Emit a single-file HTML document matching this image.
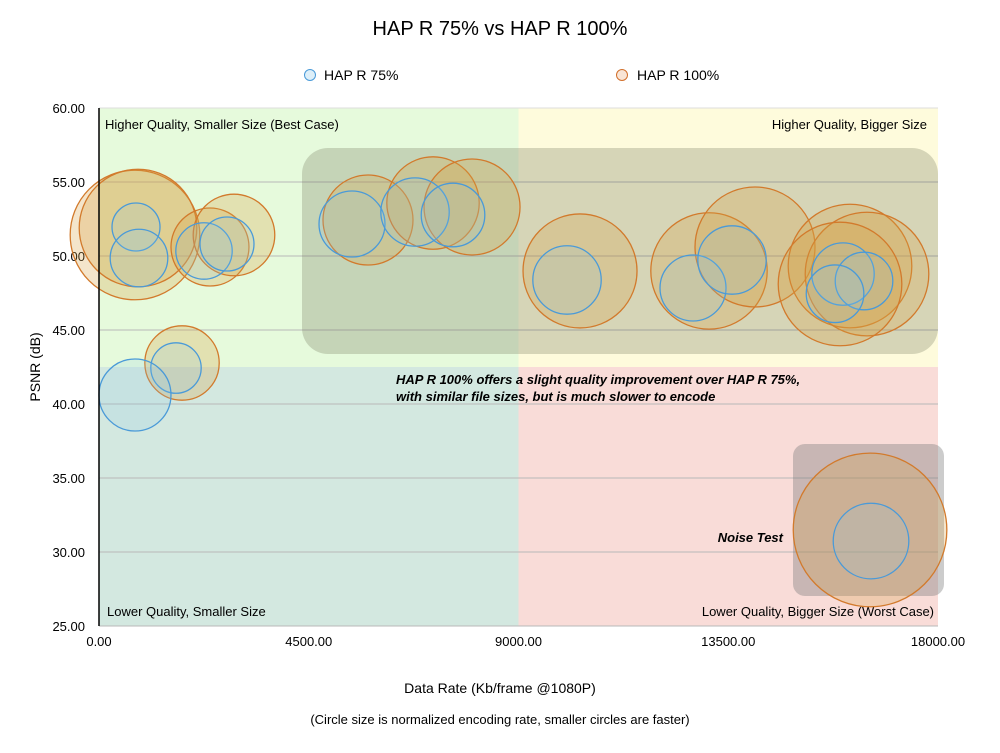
<!DOCTYPE html>
<html><head><meta charset="utf-8"><style>
body{margin:0;background:#fff;font-family:"Liberation Sans",sans-serif}
</style></head><body>
<svg id="chart" width="1000" height="748" xmlns="http://www.w3.org/2000/svg" font-family="Liberation Sans, sans-serif">
<text x="500" y="35" text-anchor="middle" font-size="20">HAP R 75% vs HAP R 100%</text>
<g>
<circle cx="310" cy="75" r="5.5" fill="rgba(120,190,230,0.25)" stroke="#4a9ad8"/>
<text x="324" y="80" font-size="14">HAP R 75%</text>
<circle cx="622" cy="75" r="5.5" fill="rgba(230,150,90,0.25)" stroke="#d2702c"/>
<text x="637" y="80" font-size="14">HAP R 100%</text>
</g>
<g id="plot"></g>
<text x="500" y="693" text-anchor="middle" font-size="14">Data Rate (Kb/frame @1080P)</text>
<text x="500" y="724" text-anchor="middle" font-size="13">(Circle size is normalized encoding rate, smaller circles are faster)</text>
<text transform="translate(40,367) rotate(-90)" text-anchor="middle" font-size="14">PSNR (dB)</text>
</svg>
<script>
const xTicks=[0,4500,9000,13500,18000];
const yTicks=[25,30,35,40,45,50,55,60];
const r75X=[794,858,2253,2746,1652,772,5428,6780,7595,10041,12744,13581,15962,16413,15791,16563];
const r75Y=[51.96,49.86,50.34,50.81,42.43,40.61,52.16,52.97,52.77,48.38,47.84,49.73,48.78,48.31,47.45,30.74];
const r75Rate=[0.40,0.48,0.47,0.45,0.42,0.60,0.55,0.57,0.53,0.57,0.55,0.57,0.52,0.48,0.48,0.63];
const r100X=[772,837,2381,2896,1781,5771,7166,8003,10320,13087,14074,16112,16477,15898,16542];
const r100Y=[51.42,51.89,50.61,51.42,42.77,52.43,53.58,53.31,48.99,48.99,50.61,49.32,48.78,48.11,31.49];
const r100Rate=[1.08,0.98,0.65,0.68,0.62,0.75,0.77,0.80,0.95,0.97,1.00,1.03,1.03,1.03,1.28];
const X0=99,X1=938,Y0=626,Y1=108;
const xs=v=>X0+(v-0)/18000*(X1-X0);
const ys=v=>Y0-(v-25)/35*(Y0-Y1);
const rs=v=>v*60;
const NS="http://www.w3.org/2000/svg";
const g=document.getElementById('plot');
function mk(t,a){const e=document.createElementNS(NS,t);for(const k in a)e.setAttribute(k,a[k]);g.appendChild(e);return e;}
let e;
e=mk('rect',{x:X0,y:Y1,width:xs(9000)-X0,height:ys(42.5)-Y1,fill:'#e6fadc'});


e=mk('rect',{x:xs(9000),y:Y1,width:X1-xs(9000),height:ys(42.5)-Y1,fill:'#fefbdc'});


e=mk('rect',{x:X0,y:ys(42.5),width:xs(9000)-X0,height:Y0-ys(42.5),fill:'#d3e8e0'});


e=mk('rect',{x:xs(9000),y:ys(42.5),width:X1-xs(9000),height:Y0-ys(42.5),fill:'#f9dcd8'});


yTicks.forEach(t=>{
 e=mk('line',{x1:X0,x2:X1,y1:ys(t),y2:ys(t),stroke:t==60?'#ddd':'#b8b8b8','stroke-width':1});
 
 
 e=mk('text',{x:85,y:ys(t)+5,'text-anchor':'end','font-size':13});
 e.textContent=t.toFixed(2);
 
 
});
xTicks.forEach(t=>{
 e=mk('text',{x:xs(t),y:646,'text-anchor':'middle','font-size':13});
 e.textContent=t.toFixed(2);
 
 
});
e=mk('rect',{x:302,y:148,width:636,height:206,rx:26,fill:'rgba(110,115,90,0.28)'});


e=mk('rect',{x:793,y:444,width:151,height:152,rx:12,fill:'rgba(120,120,120,0.38)'});


const labs=[[105,129,'start','Higher Quality, Smaller Size (Best Case)'],[927,129,'end','Higher Quality, Bigger Size'],[107,616,'start','Lower Quality, Smaller Size'],[934,616,'end','Lower Quality, Bigger Size (Worst Case)']];
labs.forEach(l=>{e=mk('text',{x:l[0],y:l[1],'text-anchor':l[2],'font-size':13});e.textContent=l[3];
 
 });
r100X.forEach((v,i)=>{
 e=mk('circle',{cx:xs(v),cy:ys(r100Y[i]),r:rs(r100Rate[i]),fill:'rgba(215,160,70,0.28)',stroke:'#d27a2c','stroke-width':1.3});
 
 
});
r75X.forEach((v,i)=>{
 e=mk('circle',{cx:xs(v),cy:ys(r75Y[i]),r:rs(r75Rate[i]),fill:'rgba(140,200,235,0.18)',stroke:'#4a9ad8','stroke-width':1.3});
 
 
});
e=mk('line',{x1:X0,x2:X0,y1:Y1,y2:Y0,stroke:'#000','stroke-width':1.5});


e=mk('text',{x:396,y:384,'font-size':13,'font-weight':'bold','font-style':'italic'});
e.textContent='HAP R 100% offers a slight quality improvement over HAP R 75%,';


e=mk('text',{x:396,y:401,'font-size':13,'font-weight':'bold','font-style':'italic'});
e.textContent='with similar file sizes, but is much slower to encode';


e=mk('text',{x:783,y:542,'text-anchor':'end','font-size':13,'font-weight':'bold','font-style':'italic'});
e.textContent='Noise Test';


</script>
</body></html>
